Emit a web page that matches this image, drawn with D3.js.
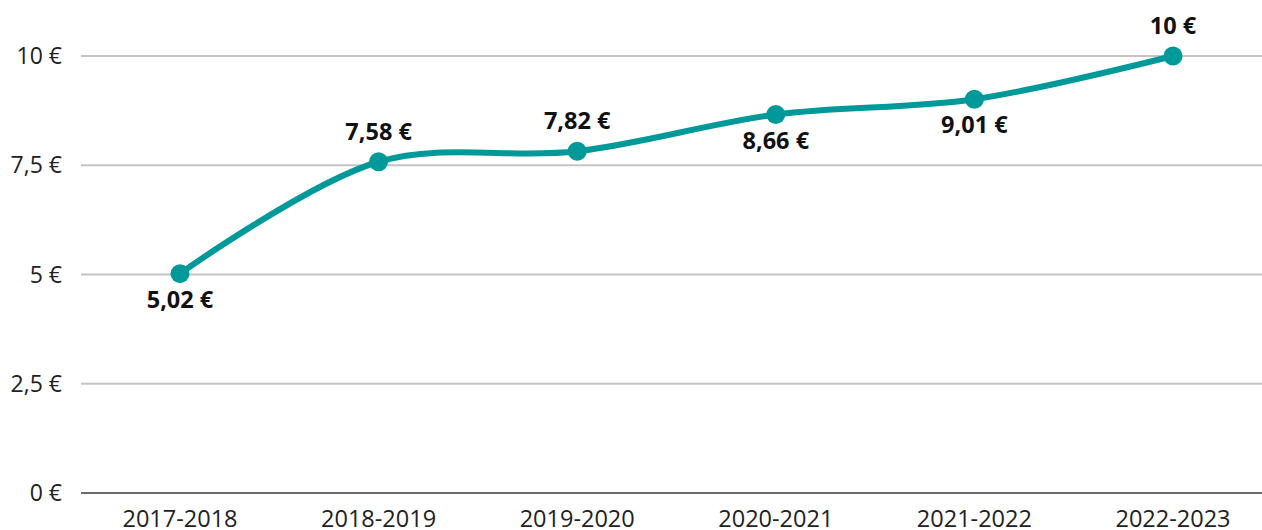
<!DOCTYPE html>
<html>
<head>
<meta charset="utf-8">
<script src="https://cdn.jsdelivr.net/npm/d3@7"></script>
<style>
  body { margin: 0; background: #fff; }
  svg { display: block; font-family: "Open Sans", sans-serif; }
</style>
</head>
<body>
<svg id="chart" width="1262" height="530"></svg>
<script>
const seasons = ["2017-2018", "2018-2019", "2019-2020", "2020-2021", "2021-2022", "2022-2023"];
const prices = [5.02, 7.58, 7.82, 8.66, 9.01, 10];
const labelSide = ["below", "above", "above", "below", "below", "above"];
const yTicks = [0, 2.5, 5, 7.5, 10];

const fmt = v => String(v).replace(".", ",") + " €";

const svg = d3.select("#chart");
const plotLeft = 81, plotRight = 1262, plotTop = 56, plotBottom = 493;

const x = d3.scalePoint()
  .domain(seasons)
  .range([180, 1173]);

const y = d3.scaleLinear()
  .domain([0, 10])
  .range([plotBottom, plotTop]);

// grid lines
svg.append("g")
  .selectAll("line")
  .data(yTicks.filter(d => d > 0))
  .join("line")
  .attr("x1", plotLeft).attr("x2", plotRight)
  .attr("y1", d => y(d)).attr("y2", d => y(d))
  .attr("stroke", "#c4c4c4")
  .attr("stroke-width", 2);

// baseline
svg.append("line")
  .attr("x1", plotLeft).attr("x2", plotRight)
  .attr("y1", y(0)).attr("y2", y(0))
  .attr("stroke", "#6b6b6b")
  .attr("stroke-width", 2);

// y labels
svg.append("g")
  .selectAll("text")
  .data(yTicks)
  .join("text")
  .attr("x", 62)
  .attr("y", d => y(d))
  .attr("dy", "0.35em")
  .attr("text-anchor", "end")
  .attr("font-size", 23)
  .attr("fill", "#222")
  .text(fmt);

// x labels
svg.append("g")
  .selectAll("text")
  .data(seasons)
  .join("text")
  .attr("x", d => x(d))
  .attr("y", 519)
  .attr("dy", "0.35em")
  .attr("text-anchor", "middle")
  .attr("font-size", 23.5)
  .attr("fill", "#222")
  .text(d => d);

const pts = seasons.map((s, i) => ({ s, v: prices[i], side: labelSide[i] }));

const line = d3.line()
  .x(d => x(d.s))
  .y(d => y(d.v))
  .curve(d3.curveCatmullRom.alpha(0.5));

svg.append("path")
  .datum(pts)
  .attr("d", line)
  .attr("fill", "none")
  .attr("stroke", "#00999a")
  .attr("stroke-width", 6)
  .attr("stroke-linecap", "round");

svg.append("g")
  .selectAll("circle")
  .data(pts)
  .join("circle")
  .attr("cx", d => x(d.s))
  .attr("cy", d => y(d.v))
  .attr("r", 9.5)
  .attr("fill", "#00999a");

svg.append("g")
  .selectAll("text")
  .data(pts)
  .join("text")
  .attr("x", d => x(d.s))
  .attr("y", d => y(d.v) + (d.side === "above" ? -30 : 26))
  .attr("dy", "0.35em")
  .attr("text-anchor", "middle")
  .attr("font-size", 23.5)
  .attr("font-weight", "bold")
  .attr("fill", "#111")
  .text(d => fmt(d.v));
</script>
</body>
</html>
